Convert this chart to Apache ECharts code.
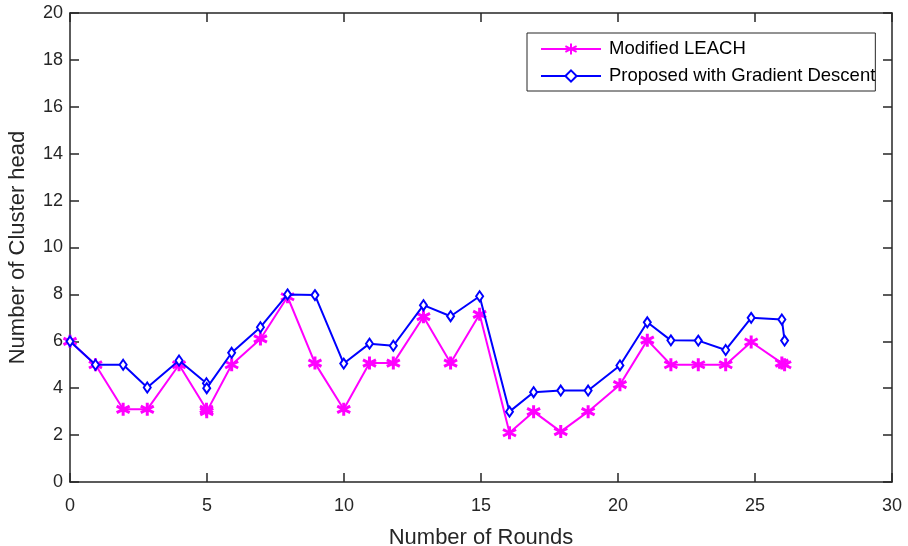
<!DOCTYPE html>
<html>
<head>
<meta charset="utf-8">
<script src="https://cdn.jsdelivr.net/npm/echarts@6/dist/echarts.min.js"></script>
<style>
  html, body { margin: 0; padding: 0; background: #fff; }
  #chart { width: 908px; height: 546px; }
</style>
</head>
<body>
<div id="chart"></div>
<script>
// Rounds at which each point was logged (both curves share them)
const rounds = [0, 0.93, 1.94, 2.82, 3.98, 4.98, 4.99, 5.9, 6.95, 7.94, 8.94, 9.99,
  10.93, 11.8, 12.9, 13.89, 14.95, 16.04, 16.92, 17.91, 18.91, 20.07, 21.07,
  21.93, 22.93, 23.93, 24.86, 25.98, 26.08];

// Number of cluster heads per round
const modifiedLeach = [6, 5, 3.1, 3.1, 5, 3.1, 3.0, 5, 6.1, 7.9, 5.07, 3.1,
  5.07, 5.07, 7.05, 5.07, 7.15, 2.1, 3.0, 2.15, 3.0, 4.15, 6.05, 5, 5, 5,
  5.97, 5.07, 5.0];
const proposedGD = [6, 5, 5, 4.03, 5.18, 4.21, 4.0, 5.51, 6.6, 8.0, 7.97, 5.05,
  5.9, 5.81, 7.54, 7.07, 7.92, 3.0, 3.83, 3.9, 3.9, 4.97, 6.81, 6.04, 6.03,
  5.63, 7.0, 6.93, 6.03];

const xTicks = { min: 0, max: 30, interval: 5 };
const yTicks = { min: 0, max: 20, interval: 2 };

const FONT = "'Liberation Sans', Arial, Helvetica, sans-serif";
const INK = '#262626';
// matlab-ish '*' marker, drawn as strokes only
const ASTERISK = 'path://M0,-6L0,6M-5.2,-3L5.2,3M-5.2,3L5.2,-3M0,-6';

const pairs = ys => rounds.map((x, i) => [x, ys[i]]);

const axisLine = { show: true, onZero: false, lineStyle: { color: INK, width: 1.5 } };
const axisTick = { show: true, inside: true, length: 9, lineStyle: { color: INK, width: 1.5 } };

const chart = echarts.init(document.getElementById('chart'), null, { renderer: 'canvas' });

chart.setOption({
  animation: false,
  backgroundColor: '#fff',
  grid: { left: 70, right: 16, top: 13, bottom: 64, containLabel: false, outerBoundsMode: 'none' },
  legend: {
    orient: 'vertical',
    left: 527,
    top: 33,
    padding: [6, 0, 5, 13],
    borderColor: INK,
    borderWidth: 1,
    itemWidth: 60,
    itemHeight: 14,
    itemGap: 7,
    textStyle: { fontFamily: FONT, fontSize: 18.5, color: '#000', lineHeight: 20, padding: [0, 0, 0, 3] },
    data: ['Modified LEACH', 'Proposed with Gradient Descent'],
  },
  xAxis: [
    {
      type: 'value', ...xTicks, position: 'bottom',
      name: 'Number of Rounds', nameLocation: 'middle', nameGap: 45,
      nameTextStyle: { fontFamily: FONT, fontSize: 22, color: INK },
      axisLine, axisTick,
      axisLabel: { fontFamily: FONT, fontSize: 18, color: INK, margin: 15 },
      splitLine: { show: false },
    },
    {
      type: 'value', ...xTicks, position: 'top',
      axisLine, axisTick, axisLabel: { show: false }, splitLine: { show: false },
    },
  ],
  yAxis: [
    {
      type: 'value', ...yTicks, position: 'left',
      name: 'Number of Cluster head', nameLocation: 'middle', nameGap: 41,
      nameTextStyle: { fontFamily: FONT, fontSize: 22, color: INK },
      axisLine, axisTick,
      axisLabel: { fontFamily: FONT, fontSize: 18, color: INK, margin: 7 },
      splitLine: { show: false },
    },
    {
      type: 'value', ...yTicks, position: 'right',
      axisLine, axisTick, axisLabel: { show: false }, splitLine: { show: false },
    },
  ],
  series: [
    {
      name: 'Modified LEACH',
      type: 'line',
      data: pairs(modifiedLeach),
      symbol: ASTERISK,
      symbolSize: 13,
      showAllSymbol: true,
      lineStyle: { color: '#ff00ff', width: 2 },
      itemStyle: { color: '#ff00ff', borderColor: '#ff00ff', borderWidth: 3 },
      z: 2,
    },
    {
      name: 'Proposed with Gradient Descent',
      type: 'line',
      data: pairs(proposedGD),
      symbol: 'diamond',
      symbolSize: [7, 10],
      showAllSymbol: true,
      lineStyle: { color: '#0000ff', width: 2 },
      itemStyle: { color: '#fff', borderColor: '#0000ff', borderWidth: 2 },
      z: 3,
    },
  ],
});
</script>
</body>
</html>
